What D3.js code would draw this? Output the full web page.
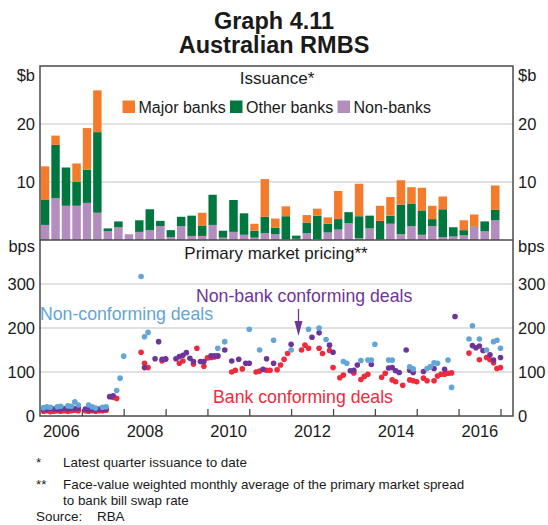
<!DOCTYPE html>
<html><head><meta charset="utf-8">
<script src="https://cdn.jsdelivr.net/npm/d3@7"></script>
<style>
body{margin:0;background:#fff}
text{font-family:"Liberation Sans",Arial,Helvetica,sans-serif;fill:#1a1a1a}
</style>
</head><body>
<svg id="chart" width="548" height="525"></svg>
<script>
// ---------- DATA ----------
const quarters = ["2006Q1","2006Q2","2006Q3","2006Q4","2007Q1","2007Q2","2007Q3","2007Q4",
"2008Q1","2008Q2","2008Q3","2008Q4","2009Q1","2009Q2","2009Q3","2009Q4",
"2010Q1","2010Q2","2010Q3","2010Q4","2011Q1","2011Q2","2011Q3","2011Q4",
"2012Q1","2012Q2","2012Q3","2012Q4","2013Q1","2013Q2","2013Q3","2013Q4",
"2014Q1","2014Q2","2014Q3","2014Q4","2015Q1","2015Q2","2015Q3","2015Q4",
"2016Q1","2016Q2","2016Q3","2016Q4"];
const nonBanks   = [2.6,7.2,5.9,5.9,6.4,4.7, 1.5,2.2,1.0,1.4,1.7,2.4, 0.5,2.4,0.7,0.7, 2.6,0.4,1.4,0.9, 0.4,1.2,1.0,0.1, 0.2,1.2,0.15,1.3, 1.8,2.9,0.3,2.0, 0.05,2.8,1.0,2.4, 0.9,2.4,0.5,0.6, 0.8,2.2,1.5,3.4];
const otherBanks = [4.3,9.2,6.6,4.1,5.7,13.9, 0.5,1.0,0,2.0,3.6,0.9, 1.2,1.6,3.5,1.8, 5.2,1.2,5.5,3.7, 1.2,2.8,1.1,4.0, 0.55,1.8,4.05,1.5, 1.8,1.9,3.8,2.2, 3.25,1.4,5.1,3.9, 4.2,1.2,4.8,1.6, 0.9,0.1,1.7,1.8];
const majorBanks = [5.8,1.6,0,3.2,7.2,7.2, 0,0,0,0,0,0, 0,0,0,2.2, 0,0,0,0, 1.2,6.5,1.6,1.7, 0,1.3,1.2,1.1, 4.85,0,5.6,0, 2.6,3.2,4.2,2.8, 3.9,2.3,2.2,0, 1.7,2.1,0,4.2];

const nonConforming = [
["2006-02",19],["2006-03",21],["2006-04",20],["2006-06",21],["2006-07",22],["2006-09",23],["2006-10",22],["2006-11",32],["2006-12",25],
["2007-03",25],["2007-04",21],["2007-05",18],["2007-07",20],["2007-08",21],["2007-11",58],["2007-12",86],
["2008-01",136],["2008-06",317],["2008-07",180],["2008-08",190],
["2010-04",154],["2010-06",169],["2011-01",197],["2011-04",150],["2011-08",172],
["2012-01",150],["2012-06",197],["2012-09",200],["2012-11",174],
["2013-04",124],["2013-05",120],["2013-09",126],["2013-11",127],["2013-12",127],
["2014-01",163],["2014-05",127],["2014-06",127],["2014-11",112],["2014-12",107],
["2015-04",108],["2015-05",112],["2015-06",121],["2015-07",120],["2015-10",127],["2015-11",65],
["2016-04",175],["2016-05",205],["2016-07",175],["2016-09",150],["2016-11",169],["2016-12",172],["2017-01",154]];

const nonBankConforming = [
["2006-02",16],["2006-03",15],["2006-04",17],["2006-05",16],["2006-06",15],["2006-07",16],["2006-08",17],["2006-09",16],["2006-10",18],["2006-11",17],["2006-12",18],
["2007-02",16],["2007-03",15],["2007-04",14],["2007-05",15],["2007-06",16],["2007-07",15],["2007-08",16],
["2007-09",44],["2007-10",46],
["2008-07",110],["2008-10",130],["2008-11",169],["2008-12",129],["2009-01",130],["2009-04",130],["2009-05",135],["2009-06",138],["2009-07",144],["2009-08",131],["2009-09",124],["2009-11",124],["2009-12",124],
["2010-02",137],["2010-03",137],["2010-04",137],["2010-06",150],["2010-08",125],["2010-10",129],["2010-12",120],
["2011-01",120],["2011-05",106],["2011-06",130],["2011-08",120],
["2012-01",163],["2012-07",179],["2012-09",189],["2012-12",161],
["2013-01",145],["2013-06",103],["2013-07",104],["2013-08",116],["2013-12",117],
["2014-05",109],["2014-06",110],["2014-07",103],["2014-08",99],["2014-10",150],["2014-11",104],["2014-12",99],
["2015-03",101],["2015-05",112],["2015-06",108],["2015-09",106],["2015-12",226],
["2016-05",160],["2016-06",155],["2016-07",159],["2016-08",149],["2016-10",139],["2016-11",127],["2017-01",133]];

const bankConforming = [
["2006-02",11],["2006-03",12],["2006-04",10],["2006-05",11],["2006-06",12],["2006-07",11],["2006-08",12],["2006-09",11],["2006-10",12],["2006-11",13],["2006-12",12],
["2007-02",12],["2007-03",11],["2007-04",12],["2007-05",11],["2007-06",12],["2007-07",12],["2007-08",13],
["2007-10",42],["2007-11",40],
["2008-06",145],["2008-07",120],["2008-08",110],
["2008-12",125],["2009-01",129],["2009-05",120],["2009-06",125],["2009-09",118],["2009-10",154],["2009-12",113],
["2010-01",132],["2010-02",133],["2010-03",134],["2010-04",136],["2010-08",100],["2010-09",104],["2010-11",107],
["2011-03",100],["2011-04",102],["2011-06",104],["2011-07",104],["2011-09",105],["2011-10",116],["2011-11",129],["2011-12",142],
["2012-04",150],["2012-05",161],["2012-06",154],["2012-09",154],["2012-10",142],["2012-12",149],
["2013-01",110],["2013-03",87],["2013-04",93],["2013-07",98],["2013-09",83],["2013-10",90],["2013-11",95],
["2014-03",88],["2014-04",97],["2014-06",82],["2014-07",78],["2014-09",70],["2014-11",82],["2014-12",80],
["2015-01",78],["2015-03",86],["2015-04",80],["2015-06",80],["2015-07",91],["2015-08",95],["2015-09",95],["2015-10",97],["2015-11",98],
["2016-04",143],["2016-07",128],["2016-09",133],["2016-10",128],["2016-11",121],["2016-12",108],["2017-01",110]];

const topTicks = [10, 20];
const bottomTicks = [0, 100, 200, 300];
const yearLabels = [2006, 2008, 2010, 2012, 2014, 2016];

// ---------- STYLE ----------
const C = {orange:"#f47b2c", green:"#00773f", lilac:"#b48dbf",
           blue:"#62a5d6", purple:"#6e3598", red:"#ee2b3d",
           frame:"#4a4a4a", grid:"#c4c4c4"};
const L = 40, R = 513, T1 = 66, B1 = 240, B2 = 416;

const svg = d3.select("#chart");
svg.append("rect").attr("width",548).attr("height",525).attr("fill","#fff");

const x = d3.scaleTime().domain([new Date(2006,0,1), new Date(2017,3,20)]).range([L, R]);
const yTop = d3.scaleLinear().domain([0,30]).range([B1, T1]);
const yBot = d3.scaleLinear().domain([0,400]).range([B2, B1]);

// gridlines
svg.append("g").selectAll("line").data(topTicks).join("line")
  .attr("x1",L).attr("x2",R).attr("y1",d=>yTop(d)).attr("y2",d=>yTop(d))
  .attr("stroke",C.grid).attr("stroke-width",1.2);
svg.append("g").selectAll("line").data(bottomTicks.filter(d=>d>0)).join("line")
  .attr("x1",L).attr("x2",R).attr("y1",d=>yBot(d)).attr("y2",d=>yBot(d))
  .attr("stroke",C.grid).attr("stroke-width",1.2);

// ---------- BARS ----------
const qDate = s => new Date(+s.slice(0,4), (+s.slice(5)-1)*3, 1);
const rows = quarters.map((q,i)=>({q:qDate(q), nonBanks:nonBanks[i], otherBanks:otherBanks[i], majorBanks:majorBanks[i]}));
const stack = d3.stack().keys(["nonBanks","otherBanks","majorBanks"])(rows);
const barColor = {nonBanks:C.lilac, otherBanks:C.green, majorBanks:C.orange};
svg.append("g").selectAll("g").data(stack).join("g").attr("fill",d=>barColor[d.key])
  .selectAll("rect").data(d=>d).join("rect")
  .attr("x",d=>x(d.data.q)+1)
  .attr("width",d=>x(d3.timeMonth.offset(d.data.q,3))-x(d.data.q)-2)
  .attr("y",d=>yTop(d[1]))
  .attr("height",d=>Math.max(0,yTop(d[0])-yTop(d[1])));

// ---------- SCATTER ----------
const mDate = s => new Date(+s.slice(0,4), +s.slice(5)-1, 1);
function dots(data, col){
  svg.append("g").selectAll("circle").data(data).join("circle")
    .attr("cx",d=>x(mDate(d[0]))).attr("cy",d=>yBot(d[1])).attr("r",2.8).attr("fill",col);
}
dots(bankConforming, C.red);
dots(nonBankConforming, C.purple);
dots(nonConforming, C.blue);

// ---------- FRAME ----------
svg.append("rect").attr("x",L).attr("y",T1).attr("width",R-L).attr("height",B2-T1)
  .attr("fill","none").attr("stroke",C.frame).attr("stroke-width",1.5);
svg.append("line").attr("x1",L).attr("x2",R).attr("y1",B1).attr("y2",B1)
  .attr("stroke",C.frame).attr("stroke-width",1.5);

// x axis ticks (inward) and labels
const yearStarts = d3.range(2007,2018).map(y=>new Date(y,0,1));
const xTicks = svg.append("g").attr("transform",`translate(0,${B2})`)
  .call(d3.axisBottom(x).tickValues(yearStarts).tickSize(-7).tickFormat(""));
xTicks.select(".domain").remove();
xTicks.selectAll("line").attr("stroke",C.frame).attr("stroke-width",1.3);
const xLab = svg.append("g").attr("transform",`translate(0,${B2})`)
  .call(d3.axisBottom(x).tickValues(yearLabels.map(y=>new Date(y,6,1))).tickSize(0).tickPadding(9).tickFormat(d3.timeFormat("%Y")));
xLab.select(".domain").remove();
xLab.selectAll("text").attr("font-size",16.5).attr("fill","#1a1a1a").attr("font-family","Liberation Sans, Arial, sans-serif");

// y axes
function yAxis(axis, tx){
  const g = svg.append("g").attr("transform",`translate(${tx},0)`).call(axis);
  g.select(".domain").remove(); g.selectAll("line").remove();
  g.selectAll("text").attr("font-size",16.5).attr("fill","#1a1a1a").attr("font-family","Liberation Sans, Arial, sans-serif");
}
yAxis(d3.axisLeft(yTop).tickValues(topTicks).tickSize(0).tickPadding(5), L);
yAxis(d3.axisRight(yTop).tickValues(topTicks).tickSize(0).tickPadding(5), R);
yAxis(d3.axisLeft(yBot).tickValues(bottomTicks).tickSize(0).tickPadding(5), L);
yAxis(d3.axisRight(yBot).tickValues(bottomTicks).tickSize(0).tickPadding(5), R);

function txt(s, xx, yy, opt={}){
  return svg.append("text").attr("x",xx).attr("y",yy).text(s)
    .attr("font-size",opt.size||16.5).attr("text-anchor",opt.anchor||"start")
    .attr("font-weight",opt.weight||"normal").style("fill",opt.fill||"#1a1a1a");
}
txt("$b", 35, 81, {anchor:"end"});
txt("$b", 518, 81);
txt("bps", 35, 252, {anchor:"end"});
txt("bps", 518, 252);

// titles
txt("Graph 4.11", 274, 29, {anchor:"middle", size:23.5, weight:"bold"});
txt("Australian RMBS", 274, 53, {anchor:"middle", size:23.5, weight:"bold"});
txt("Issuance*", 277, 84, {anchor:"middle", size:17});
txt("Primary market pricing**", 276, 259, {anchor:"middle", size:17});

// legend
const legend = [["Major banks",C.orange,122.5],["Other banks",C.green,230],["Non-banks",C.lilac,337.5]];
legend.forEach(([n,c,lx])=>{
  svg.append("rect").attr("x",lx).attr("y",100.5).attr("width",12.5).attr("height",12.5).attr("fill",c);
  txt(n, lx+16, 113, {size:16});
});

// series labels
txt("Non-conforming deals", 40, 320, {size:17.7, fill:C.blue});
txt("Non-bank conforming deals", 196, 302, {size:17.7, fill:C.purple});
txt("Bank conforming deals", 213, 403, {size:17.7, fill:C.red});
// arrow
svg.append("line").attr("x1",298.5).attr("x2",298.5).attr("y1",309).attr("y2",326)
  .attr("stroke",C.purple).attr("stroke-width",1.3);
svg.append("path").attr("d","M294.5,321 L302.5,321 L298.5,336 Z").attr("fill",C.purple);

// footnotes
const fs = 13.4;
txt("*", 36, 467, {size:fs});
txt("Latest quarter issuance to date", 63, 467, {size:fs});
txt("**", 36, 489, {size:fs});
txt("Face-value weighted monthly average of the primary market spread", 63, 489, {size:fs});
txt("to bank bill swap rate", 63, 505, {size:fs});
txt("Source:", 36, 521, {size:fs});
txt("RBA", 97, 521, {size:fs});
</script>
</body></html>
